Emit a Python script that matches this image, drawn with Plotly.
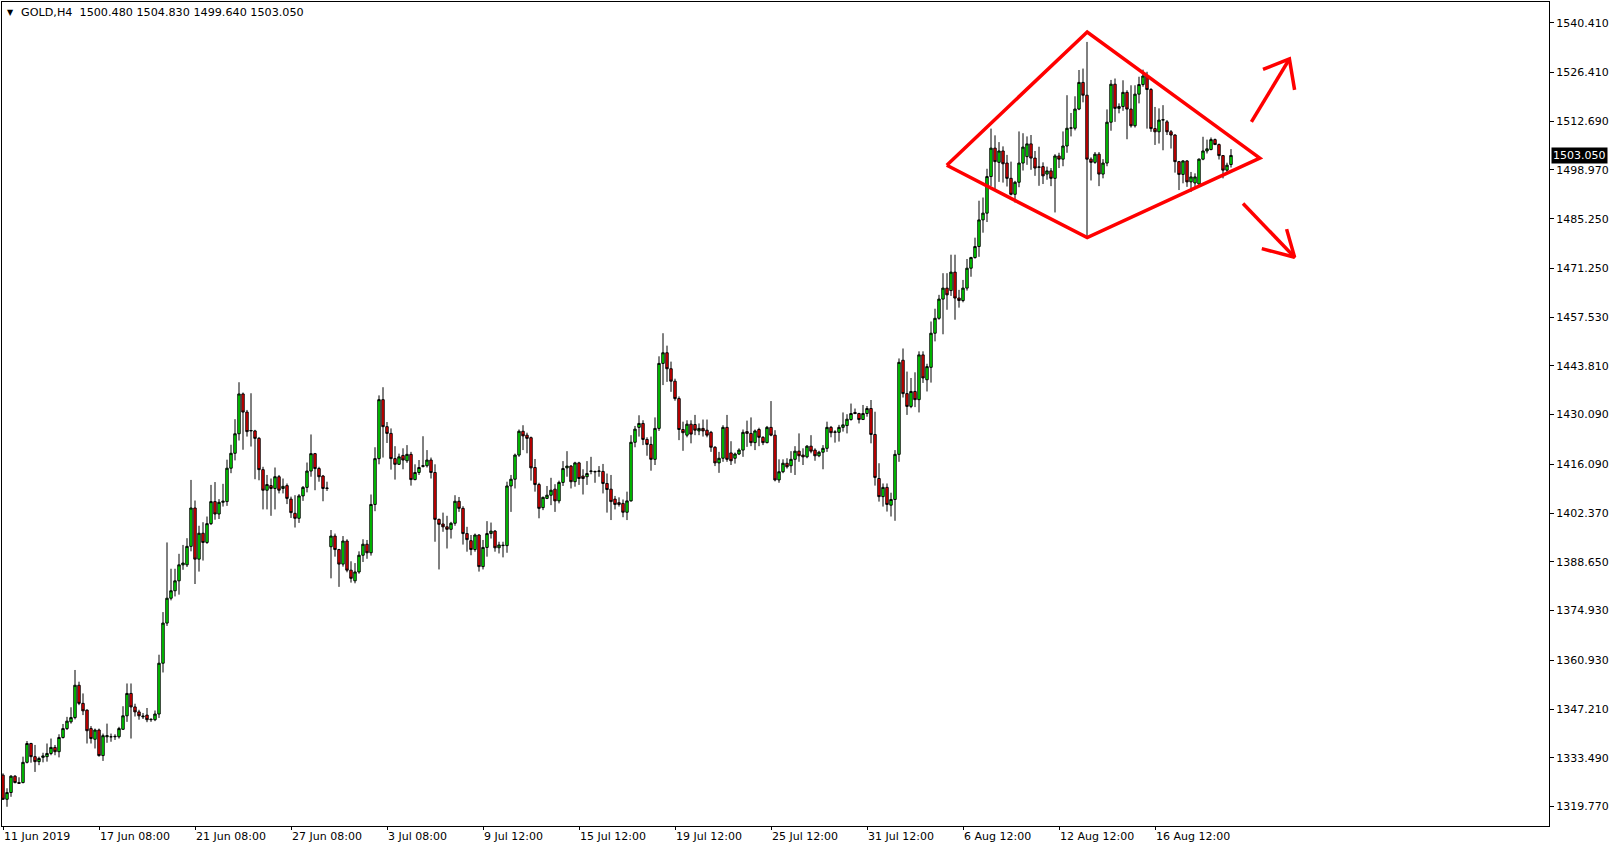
import plotly.graph_objects as go

HEADER = "GOLD,H4  1500.480 1504.830 1499.640 1503.050"
LAST_PRICE = 1503.05

OPEN = [
    1328.6, 1321.8, 1323.7, 1328.3, 1326.5, 1326.5, 1332.2, 1337.5, 1333.8, 1332.4,
    1333.6, 1333.8, 1334.7, 1336.4, 1335.2, 1339.2, 1341.7, 1343.6, 1344.8, 1353.9,
    1348.8, 1346.9, 1341.7, 1338.7, 1341.3, 1334.1, 1339.4, 1339.4, 1339.4, 1339.4,
    1341.5, 1345.3, 1351.6, 1347.8, 1346.4, 1345.0, 1345.5, 1344.2, 1344.2, 1345.8,
    1360.1, 1371.4, 1378.4, 1380.5, 1383.3, 1387.8, 1387.8, 1393.0, 1403.8, 1389.4,
    1396.7, 1394.1, 1399.4, 1405.6, 1402.1, 1405.4, 1405.6, 1415.0, 1419.2, 1424.7,
    1435.9, 1430.8, 1425.5, 1425.5, 1423.4, 1414.6, 1408.8, 1410.1, 1409.3, 1412.6,
    1409.3, 1410.1, 1406.3, 1402.3, 1400.9, 1407.2, 1409.6, 1414.2, 1419.1, 1414.9,
    1412.8, 1409.3, 1392.9, 1395.9, 1392.1, 1388.0, 1394.5, 1386.3, 1383.3, 1385.8,
    1390.5, 1393.6, 1391.2, 1404.8, 1417.7, 1434.3, 1426.7, 1424.8, 1417.7, 1416.1,
    1418.6, 1417.1, 1418.9, 1411.8, 1413.8, 1415.5, 1415.7, 1417.3, 1413.8, 1400.6,
    1399.3, 1398.5, 1397.8, 1399.5, 1405.7, 1403.7, 1396.6, 1394.6, 1392.1, 1396.2,
    1387.3, 1392.7, 1396.6, 1397.3, 1392.6, 1393.2, 1393.2, 1410.0, 1411.9, 1418.7,
    1425.4, 1424.3, 1423.6, 1415.2, 1410.4, 1403.9, 1406.5, 1407.4, 1409.1, 1405.8,
    1411.0, 1415.1, 1415.6, 1411.2, 1416.5, 1412.8, 1412.6, 1414.1, 1414.1, 1414.1,
    1414.1, 1410.7, 1409.1, 1406.3, 1405.3, 1405.1, 1402.6, 1405.8, 1422.3, 1426.5,
    1427.6, 1423.1, 1421.7, 1417.5, 1426.2, 1444.5, 1447.5, 1443.0, 1439.5, 1434.6,
    1425.9, 1424.3, 1427.4, 1427.3, 1425.5, 1426.2, 1425.7, 1425.1, 1420.9, 1416.5,
    1417.8, 1426.5, 1419.3, 1417.8, 1419.0, 1420.1, 1425.3, 1424.8, 1422.2, 1425.9,
    1423.7, 1422.2, 1426.5, 1424.3, 1411.7, 1414.0, 1416.4, 1415.7, 1417.5, 1419.8,
    1418.7, 1418.2, 1421.2, 1420.1, 1418.5, 1419.5, 1420.6, 1426.5, 1425.1, 1425.1,
    1426.5, 1427.0, 1428.7, 1430.7, 1430.4, 1428.7, 1430.4, 1431.8, 1424.5, 1412.1,
    1407.0, 1409.6, 1404.6, 1406.2, 1418.9, 1445.4, 1436.0, 1432.4, 1436.6, 1434.3,
    1446.9, 1439.9, 1443.4, 1453.0, 1457.2, 1462.6, 1465.7, 1465.0, 1470.2, 1462.9,
    1462.2, 1465.7, 1471.3, 1474.3, 1477.4, 1484.9, 1486.8, 1497.1, 1505.1, 1501.1,
    1504.3, 1500.9, 1496.6, 1492.1, 1495.5, 1500.9, 1502.7, 1506.3, 1502.3, 1499.7,
    1499.9, 1497.8, 1498.7, 1496.6, 1502.9, 1502.0, 1505.7, 1510.7, 1510.7, 1516.1,
    1523.6, 1520.0, 1502.0, 1501.1, 1503.4, 1497.8, 1500.9, 1512.4, 1523.1, 1516.3,
    1516.8, 1520.8, 1516.1, 1511.4, 1520.3, 1523.0, 1525.4, 1521.6, 1510.6, 1509.7,
    1513.0, 1512.5, 1509.7, 1508.8, 1501.3, 1497.7, 1501.5, 1495.6, 1495.3, 1495.0,
    1502.0, 1504.3, 1504.7, 1507.5, 1506.1, 1503.0, 1498.9, 1500.48,
]
HIGH = [
    1329.1, 1324.9, 1328.6, 1328.6, 1328.0, 1333.8, 1338.2, 1337.7, 1337.1, 1333.8,
    1334.9, 1337.5, 1338.9, 1337.1, 1340.1, 1343.0, 1345.0, 1347.7, 1358.2, 1354.9,
    1351.6, 1347.1, 1342.4, 1341.7, 1341.7, 1340.3, 1343.1, 1340.3, 1340.1, 1342.2,
    1348.0, 1354.4, 1354.4, 1348.7, 1347.0, 1346.1, 1347.5, 1344.6, 1346.8, 1362.5,
    1374.5, 1394.1, 1386.7, 1386.7, 1390.9, 1393.4, 1395.3, 1411.7, 1405.9, 1398.8,
    1399.8, 1401.4, 1410.3, 1411.1, 1406.3, 1410.6, 1417.4, 1421.6, 1428.8, 1439.2,
    1436.3, 1431.4, 1436.1, 1425.8, 1423.8, 1415.4, 1413.1, 1412.1, 1415.2, 1413.1,
    1412.1, 1410.7, 1407.0, 1407.4, 1407.7, 1410.0, 1416.6, 1424.5, 1419.3, 1415.4,
    1413.1, 1411.2, 1397.6, 1396.6, 1392.3, 1395.9, 1395.0, 1388.8, 1388.3, 1391.6,
    1395.0, 1394.8, 1407.6, 1420.9, 1435.5, 1437.8, 1428.0, 1426.2, 1421.2, 1419.1,
    1420.6, 1421.5, 1419.6, 1416.1, 1417.3, 1424.0, 1420.1, 1418.0, 1416.1, 1400.8,
    1402.5, 1401.6, 1399.9, 1407.4, 1406.9, 1404.3, 1398.5, 1396.2, 1396.6, 1396.4,
    1394.8, 1400.1, 1399.7, 1397.6, 1394.3, 1394.3, 1411.2, 1413.1, 1419.1, 1425.9,
    1427.1, 1425.0, 1423.9, 1417.6, 1410.9, 1407.0, 1410.0, 1412.3, 1410.5, 1411.5,
    1417.0, 1419.8, 1415.9, 1416.8, 1416.8, 1414.7, 1417.0, 1418.2, 1414.3, 1415.6,
    1416.2, 1413.5, 1413.1, 1407.2, 1406.8, 1406.2, 1408.4, 1424.3, 1426.9, 1429.9,
    1428.5, 1423.7, 1423.9, 1429.3, 1446.5, 1453.0, 1449.5, 1445.0, 1440.2, 1435.2,
    1428.1, 1428.5, 1428.5, 1430.0, 1427.6, 1428.7, 1428.7, 1425.5, 1421.2, 1419.6,
    1427.1, 1430.0, 1422.6, 1419.4, 1420.6, 1425.9, 1428.4, 1429.3, 1425.9, 1426.4,
    1424.0, 1426.9, 1433.9, 1425.7, 1417.5, 1417.5, 1417.8, 1419.8, 1421.2, 1424.8,
    1420.6, 1421.5, 1424.3, 1420.6, 1419.9, 1421.5, 1428.1, 1426.9, 1425.7, 1427.2,
    1430.7, 1430.2, 1433.2, 1431.8, 1430.6, 1432.8, 1432.5, 1434.2, 1430.9, 1416.4,
    1410.7, 1410.7, 1408.1, 1420.1, 1445.9, 1448.7, 1442.2, 1440.4, 1442.0, 1447.9,
    1447.9, 1444.4, 1456.3, 1459.9, 1463.8, 1469.9, 1469.9, 1475.1, 1475.1, 1465.2,
    1468.0, 1473.9, 1474.5, 1479.9, 1490.3, 1491.2, 1499.3, 1510.6, 1508.7, 1506.8,
    1505.6, 1503.2, 1501.3, 1495.9, 1509.8, 1509.3, 1508.4, 1508.8, 1504.3, 1505.5,
    1501.1, 1499.9, 1499.5, 1503.4, 1503.8, 1509.8, 1520.0, 1515.0, 1519.7, 1527.1,
    1527.5, 1535.0, 1502.5, 1504.0, 1504.0, 1502.0, 1516.0, 1524.3, 1524.7, 1517.7,
    1524.2, 1521.4, 1522.8, 1522.8, 1525.2, 1527.2, 1526.6, 1522.0, 1516.7, 1516.3,
    1517.2, 1513.0, 1510.2, 1509.0, 1501.5, 1501.7, 1501.7, 1498.4, 1498.0, 1502.2,
    1508.3, 1507.5, 1508.1, 1507.8, 1506.4, 1503.1, 1501.0, 1504.83,
]
LOW = [
    1321.6, 1319.7, 1322.5, 1326.3, 1326.1, 1326.3, 1331.9, 1332.1, 1329.5, 1331.4,
    1332.2, 1332.4, 1334.2, 1334.2, 1333.6, 1338.9, 1341.3, 1343.1, 1344.3, 1348.3,
    1345.5, 1337.5, 1337.5, 1336.1, 1333.8, 1332.6, 1337.7, 1338.0, 1338.5, 1338.9,
    1341.3, 1343.6, 1338.9, 1345.1, 1344.2, 1344.4, 1343.5, 1343.6, 1343.8, 1344.7,
    1357.5, 1370.6, 1377.8, 1378.9, 1379.4, 1386.4, 1387.2, 1391.6, 1382.4, 1385.9,
    1389.0, 1393.7, 1399.0, 1400.5, 1400.7, 1404.2, 1404.4, 1413.6, 1417.2, 1422.8,
    1420.2, 1423.9, 1421.1, 1411.9, 1411.6, 1403.4, 1403.4, 1401.6, 1403.4, 1407.9,
    1407.9, 1404.9, 1401.0, 1398.3, 1399.6, 1405.8, 1408.2, 1412.6, 1408.8, 1411.2,
    1405.7, 1408.6, 1384.0, 1390.1, 1381.6, 1387.3, 1385.7, 1382.8, 1382.6, 1385.3,
    1388.6, 1389.5, 1390.4, 1402.9, 1416.1, 1418.0, 1422.1, 1414.6, 1411.8, 1415.9,
    1414.7, 1416.5, 1410.1, 1411.6, 1413.1, 1415.2, 1415.2, 1412.1, 1394.3, 1386.5,
    1397.1, 1392.4, 1395.2, 1398.8, 1402.7, 1393.5, 1391.5, 1390.5, 1391.5, 1385.9,
    1386.5, 1390.1, 1395.2, 1391.5, 1391.0, 1389.9, 1391.2, 1402.7, 1409.3, 1418.2,
    1420.1, 1419.2, 1411.5, 1408.4, 1400.9, 1403.2, 1406.3, 1404.6, 1402.7, 1405.1,
    1410.0, 1412.6, 1409.3, 1409.8, 1410.3, 1407.6, 1410.3, 1413.3, 1410.9, 1412.6,
    1407.9, 1402.5, 1400.4, 1403.4, 1404.2, 1401.2, 1400.4, 1405.6, 1420.9, 1423.9,
    1421.5, 1418.5, 1414.3, 1415.9, 1425.5, 1438.4, 1439.3, 1436.5, 1434.0, 1422.9,
    1419.9, 1423.7, 1422.0, 1424.3, 1424.3, 1423.9, 1423.7, 1419.6, 1415.6, 1413.7,
    1416.8, 1416.8, 1415.9, 1416.3, 1418.7, 1418.2, 1421.0, 1421.2, 1420.1, 1421.2,
    1421.5, 1422.0, 1424.0, 1411.3, 1410.9, 1413.6, 1414.9, 1413.7, 1413.1, 1416.8,
    1415.9, 1417.8, 1419.2, 1417.1, 1418.1, 1414.7, 1419.6, 1423.7, 1422.2, 1422.5,
    1425.3, 1424.8, 1428.4, 1430.2, 1427.6, 1428.6, 1429.5, 1422.0, 1410.1, 1405.6,
    1404.2, 1402.8, 1401.4, 1400.2, 1416.8, 1434.9, 1430.0, 1431.9, 1432.2, 1430.7,
    1439.0, 1436.6, 1439.1, 1450.7, 1456.8, 1452.7, 1459.6, 1463.5, 1456.8, 1460.2,
    1461.7, 1465.0, 1468.9, 1474.0, 1474.5, 1481.3, 1484.3, 1494.4, 1493.5, 1495.6,
    1495.4, 1494.3, 1491.8, 1489.8, 1494.1, 1498.8, 1500.4, 1499.0, 1497.3, 1494.5,
    1495.0, 1496.2, 1494.4, 1487.0, 1499.5, 1500.0, 1503.8, 1508.4, 1510.1, 1515.8,
    1518.0, 1480.2, 1496.0, 1500.7, 1494.4, 1496.6, 1500.0, 1510.0, 1512.5, 1514.9,
    1515.6, 1507.6, 1510.9, 1510.9, 1517.7, 1522.4, 1510.6, 1509.7, 1506.0, 1506.4,
    1504.5, 1508.8, 1505.0, 1498.2, 1493.3, 1495.2, 1494.2, 1492.8, 1494.2, 1494.7,
    1501.7, 1503.6, 1504.5, 1506.0, 1501.9, 1496.6, 1498.0, 1499.64,
]
CLOSE = [
    1321.8, 1323.7, 1328.3, 1326.5, 1326.3, 1332.2, 1337.5, 1333.8, 1332.4, 1333.3,
    1334.0, 1334.7, 1336.4, 1335.2, 1339.2, 1341.7, 1343.8, 1344.8, 1353.9, 1348.8,
    1346.7, 1341.1, 1338.9, 1341.3, 1334.1, 1339.7, 1339.7, 1339.4, 1339.5, 1341.7,
    1345.3, 1351.6, 1347.8, 1346.4, 1345.3, 1345.2, 1344.2, 1344.3, 1345.8, 1360.1,
    1371.4, 1378.4, 1380.5, 1383.3, 1387.8, 1388.3, 1393.0, 1403.8, 1389.4, 1396.7,
    1394.1, 1399.4, 1405.6, 1402.1, 1405.4, 1405.7, 1415.0, 1419.2, 1424.7, 1435.9,
    1430.8, 1425.3, 1425.6, 1423.4, 1414.6, 1408.8, 1410.4, 1409.3, 1412.6, 1408.8,
    1409.9, 1406.5, 1402.5, 1400.9, 1407.2, 1409.6, 1414.2, 1419.1, 1414.9, 1412.6,
    1409.3, 1409.4, 1395.9, 1392.1, 1388.0, 1394.5, 1386.3, 1384.0, 1385.8, 1390.5,
    1393.6, 1391.2, 1404.8, 1417.7, 1434.3, 1426.7, 1424.8, 1417.7, 1416.1, 1418.2,
    1417.3, 1418.9, 1411.8, 1413.8, 1415.2, 1415.7, 1417.3, 1413.8, 1400.6, 1399.2,
    1398.5, 1397.8, 1399.5, 1405.7, 1403.7, 1396.6, 1394.9, 1392.1, 1396.2, 1387.3,
    1392.7, 1396.6, 1397.3, 1392.6, 1393.4, 1393.3, 1410.0, 1411.9, 1418.7, 1425.4,
    1424.1, 1423.4, 1415.1, 1410.4, 1403.7, 1406.8, 1407.4, 1408.8, 1405.8, 1411.0,
    1414.9, 1415.6, 1411.2, 1416.5, 1412.1, 1412.1, 1413.5, 1414.2, 1414.0, 1414.2,
    1410.7, 1409.0, 1405.6, 1404.8, 1404.8, 1402.6, 1405.8, 1422.3, 1426.0, 1427.6,
    1423.1, 1421.7, 1417.5, 1426.2, 1444.5, 1447.5, 1443.0, 1439.5, 1434.6, 1425.9,
    1425.0, 1427.4, 1424.6, 1425.7, 1426.2, 1425.5, 1424.3, 1420.9, 1416.5, 1417.8,
    1426.5, 1417.5, 1417.1, 1419.0, 1420.1, 1425.1, 1424.8, 1422.2, 1425.5, 1423.7,
    1422.2, 1426.5, 1424.3, 1411.7, 1414.0, 1416.4, 1415.4, 1417.5, 1419.8, 1418.5,
    1418.2, 1421.2, 1419.8, 1418.5, 1419.5, 1420.6, 1426.5, 1425.0, 1425.2, 1426.5,
    1427.2, 1428.8, 1430.4, 1430.4, 1428.7, 1430.4, 1431.8, 1424.5, 1412.4, 1407.0,
    1409.6, 1404.8, 1406.2, 1418.9, 1444.8, 1436.0, 1432.4, 1436.6, 1434.3, 1446.9,
    1440.4, 1443.6, 1453.0, 1457.2, 1462.6, 1465.7, 1463.8, 1470.2, 1462.9, 1462.2,
    1465.7, 1471.3, 1474.3, 1477.4, 1484.9, 1486.8, 1497.1, 1505.1, 1501.3, 1504.3,
    1500.7, 1496.6, 1492.1, 1495.5, 1500.9, 1505.4, 1506.3, 1502.3, 1499.5, 1499.8,
    1497.3, 1498.7, 1496.6, 1502.9, 1502.0, 1505.7, 1510.7, 1510.8, 1516.1, 1523.6,
    1520.0, 1502.0, 1501.1, 1503.4, 1497.8, 1500.9, 1512.4, 1523.1, 1516.3, 1516.8,
    1520.8, 1516.1, 1511.4, 1520.3, 1523.0, 1525.4, 1521.6, 1510.6, 1509.7, 1513.0,
    1513.1, 1509.7, 1508.8, 1501.3, 1497.7, 1501.5, 1495.6, 1497.0, 1497.0, 1502.0,
    1504.3, 1504.9, 1507.5, 1506.1, 1503.0, 1498.9, 1500.3, 1503.05,
]

X_TICK_BARS = [0, 24, 48, 72, 96, 120, 144, 168, 192, 216, 240, 264, 288]
X_TICK_LABELS = ["11 Jun 2019", "17 Jun 08:00", "21 Jun 08:00", "27 Jun 08:00",
                 "3 Jul 08:00", "9 Jul 12:00", "15 Jul 12:00", "19 Jul 12:00",
                 "25 Jul 12:00", "31 Jul 12:00", "6 Aug 12:00", "12 Aug 12:00",
                 "16 Aug 12:00"]
Y_TICK_VALUES = [1540.41, 1526.41, 1512.69, 1498.97, 1485.25, 1471.25, 1457.53,
                 1443.81, 1430.09, 1416.09, 1402.37, 1388.65, 1374.93, 1360.93,
                 1347.21, 1333.49, 1319.77]
Y_TICK_LABELS = ["1540.410", "1526.410", "1512.690", "1498.970", "1485.250",
                 "1471.250", "1457.530", "1443.810", "1430.090", "1416.090",
                 "1402.370", "1388.650", "1374.930", "1360.930", "1347.210",
                 "1333.490", "1319.770"]

# hand-drawn annotation (bar index, price)
DIAMOND_BAR = [235.95, 271.05, 314.2, 271.05, 235.95]
DIAMOND_PRICE = [1500.3, 1537.8, 1502.3, 1479.9, 1500.3]
ARROW_UP_BAR = [312.1, 321.6, None, 315.0, 321.6, 322.9]
ARROW_UP_PRICE = [1512.5, 1530.2, None, 1527.3, 1530.2, 1521.5]
ARROW_DN_BAR = [310.0, 322.9, None, 314.7, 322.9, 320.9]
ARROW_DN_PRICE = [1489.5, 1474.4, None, 1476.8, 1474.4, 1482.3]

BARS = list(range(len(OPEN)))
FONT = "DejaVu Sans"

fig = go.Figure()
fig.add_trace(go.Candlestick(
    x=BARS, open=OPEN, high=HIGH, low=LOW, close=CLOSE,
    increasing=dict(line=dict(color="black", width=1), fillcolor="#00FF00"),
    decreasing=dict(line=dict(color="black", width=1), fillcolor="#FF0000"),
    whiskerwidth=0, hoverinfo="skip", showlegend=False,
))
for xs, ys in [(DIAMOND_BAR, DIAMOND_PRICE), (ARROW_UP_BAR, ARROW_UP_PRICE),
               (ARROW_DN_BAR, ARROW_DN_PRICE)]:
    fig.add_trace(go.Scatter(x=xs, y=ys, mode="lines",
                             line=dict(color="#FF0000", width=3.5),
                             hoverinfo="skip", showlegend=False))

fig.update_layout(
    width=1619, height=850,
    margin=dict(l=2, r=70, t=2, b=24, pad=0),
    paper_bgcolor="white", plot_bgcolor="white",
    boxgap=0.15,
    font=dict(family=FONT, size=11, color="black"),
    xaxis=dict(
        range=[-0.25, 386.5], tickmode="array", tickvals=X_TICK_BARS,
        ticktext=X_TICK_LABELS, ticklabelposition="outside right",
        ticks="outside", ticklen=3, tickcolor="black", tickwidth=1,
        showline=True, mirror=True, linecolor="black", linewidth=1,
        showgrid=False, zeroline=False, rangeslider=dict(visible=False),
        tickfont=dict(family=FONT, size=11, color="black"),
    ),
    yaxis=dict(
        side="right", range=[1314.28, 1546.24], tickmode="array",
        tickvals=Y_TICK_VALUES, ticktext=Y_TICK_LABELS,
        ticks="outside", ticklen=4, tickcolor="black", tickwidth=1,
        showline=True, mirror=True, linecolor="black", linewidth=1,
        showgrid=False, zeroline=False,
        tickfont=dict(family=FONT, size=11, color="black"),
    ),
    annotations=[
        dict(text="▼", xref="paper", yref="paper", x=0, y=1, xanchor="left",
             yanchor="top", xshift=3, yshift=-4, showarrow=False,
             font=dict(family=FONT, size=8, color="black")),
        dict(text=HEADER, xref="paper", yref="paper", x=0, y=1, xanchor="left",
             yanchor="top", xshift=17, yshift=-2, showarrow=False,
             font=dict(family=FONT, size=11.2, color="black")),
        dict(text="1503.050", xref="paper", yref="y", x=1, y=LAST_PRICE,
             xanchor="left", yanchor="middle", xshift=2, showarrow=False,
             bgcolor="black", borderpad=1,
             font=dict(family=FONT, size=11, color="white")),
    ],
)

fig.write_html("out.html", config={"displayModeBar": False},
               post_script="document.body.style.margin='0';document.body.style.overflow='hidden';")
